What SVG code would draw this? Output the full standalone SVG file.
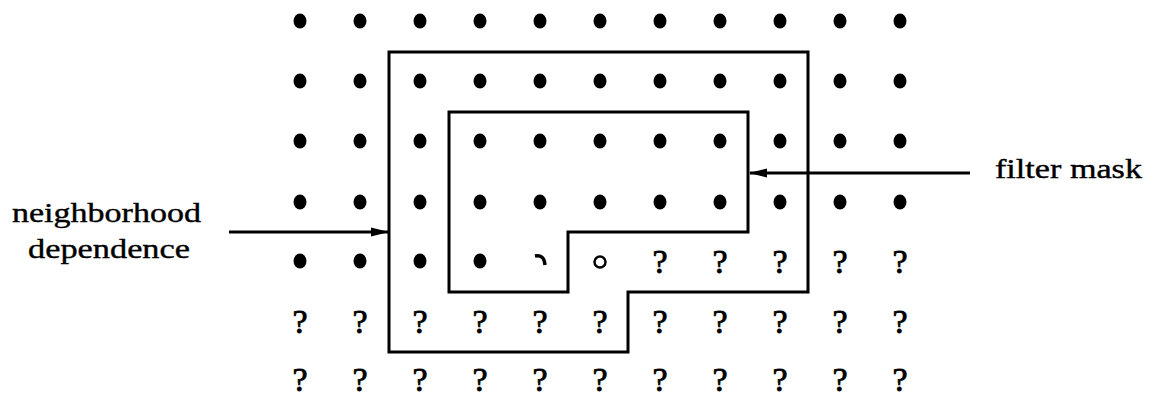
<svg xmlns="http://www.w3.org/2000/svg" width="1153" height="399" viewBox="0 0 1153 399">
<defs>
<style>
.d{fill:#000}
.q{font-family:"Liberation Serif",serif;font-size:34px;fill:#000;stroke:#000;stroke-width:0.8;text-anchor:middle}
.lbl{font-family:"Liberation Serif",serif;font-size:28px;fill:#000;stroke:#000;stroke-width:0.4}
.reg{fill:none;stroke:#000;stroke-width:3;stroke-linejoin:miter}
.ln{fill:none;stroke:#000;stroke-width:3}
</style>
<marker id="ah" viewBox="0 0 18 10" refX="17" refY="5" markerWidth="18" markerHeight="10" markerUnits="userSpaceOnUse" orient="auto">
<path d="M0,0.5 L18,5 L0,9.5 Z" fill="#000"/>
</marker>
<ellipse id="dot" cx="0" cy="0" rx="6.5" ry="7.5"/>
</defs>
<rect width="1153" height="399" fill="#fff"/>
<g id="grid">
<g class="d">
<use href="#dot" x="300" y="21"/><use href="#dot" x="360" y="21"/><use href="#dot" x="420" y="21"/><use href="#dot" x="480" y="21"/><use href="#dot" x="540" y="21"/><use href="#dot" x="600" y="21"/><use href="#dot" x="660" y="21"/><use href="#dot" x="720" y="21"/><use href="#dot" x="780" y="21"/><use href="#dot" x="840" y="21"/><use href="#dot" x="900" y="21"/>
<use href="#dot" x="300" y="81"/><use href="#dot" x="360" y="81"/><use href="#dot" x="420" y="81"/><use href="#dot" x="480" y="81"/><use href="#dot" x="540" y="81"/><use href="#dot" x="600" y="81"/><use href="#dot" x="660" y="81"/><use href="#dot" x="720" y="81"/><use href="#dot" x="780" y="81"/><use href="#dot" x="840" y="81"/><use href="#dot" x="900" y="81"/>
<use href="#dot" x="300" y="141"/><use href="#dot" x="360" y="141"/><use href="#dot" x="420" y="141"/><use href="#dot" x="480" y="141"/><use href="#dot" x="540" y="141"/><use href="#dot" x="600" y="141"/><use href="#dot" x="660" y="141"/><use href="#dot" x="720" y="141"/><use href="#dot" x="780" y="141"/><use href="#dot" x="840" y="141"/><use href="#dot" x="900" y="141"/>
<use href="#dot" x="300" y="202"/><use href="#dot" x="360" y="202"/><use href="#dot" x="420" y="202"/><use href="#dot" x="480" y="202"/><use href="#dot" x="540" y="202"/><use href="#dot" x="600" y="202"/><use href="#dot" x="660" y="202"/><use href="#dot" x="720" y="202"/><use href="#dot" x="780" y="202"/><use href="#dot" x="840" y="202"/><use href="#dot" x="900" y="202"/>
<use href="#dot" x="300" y="261"/><use href="#dot" x="360" y="261"/><use href="#dot" x="420" y="261"/><use href="#dot" x="480" y="261"/>
</g>
<path d="M535,256 Q544,254 545,265" fill="none" stroke="#000" stroke-width="3.5"/>
<circle cx="600" cy="262" r="5.5" fill="none" stroke="#000" stroke-width="2.5"/>
<g class="q">
<text x="660" y="273">?</text><text x="720" y="273">?</text><text x="780" y="273">?</text><text x="840" y="273">?</text><text x="900" y="273">?</text>
<text x="300" y="333">?</text><text x="360" y="333">?</text><text x="420" y="333">?</text><text x="480" y="333">?</text><text x="540" y="333">?</text><text x="600" y="333">?</text><text x="660" y="333">?</text><text x="720" y="333">?</text><text x="780" y="333">?</text><text x="840" y="333">?</text><text x="900" y="333">?</text>
<text x="300" y="391">?</text><text x="360" y="391">?</text><text x="420" y="391">?</text><text x="480" y="391">?</text><text x="540" y="391">?</text><text x="600" y="391">?</text><text x="660" y="391">?</text><text x="720" y="391">?</text><text x="780" y="391">?</text><text x="840" y="391">?</text><text x="900" y="391">?</text>
</g>
</g>
<g id="neighborhood-region">
<path class="reg" d="M389,52 H808 V292 H628 V352 H389 Z"/>
</g>
<g id="filter-mask-region">
<path class="reg" d="M449,112 H748 V232 H568 V292 H449 Z"/>
</g>
<g id="label-neighborhood">
<text class="lbl" x="12" y="222" textLength="189" lengthAdjust="spacingAndGlyphs">neighborhood</text>
<text class="lbl" x="28" y="258" textLength="162" lengthAdjust="spacingAndGlyphs">dependence</text>
</g>
<g id="label-filter">
<text class="lbl" x="995" y="178" textLength="147" lengthAdjust="spacingAndGlyphs">filter mask</text>
</g>
<g id="connectors">
<line class="ln" x1="229" y1="232" x2="388" y2="232" marker-end="url(#ah)"/>
<line class="ln" x1="970" y1="173" x2="750" y2="173" marker-end="url(#ah)"/>
</g>
</svg>
